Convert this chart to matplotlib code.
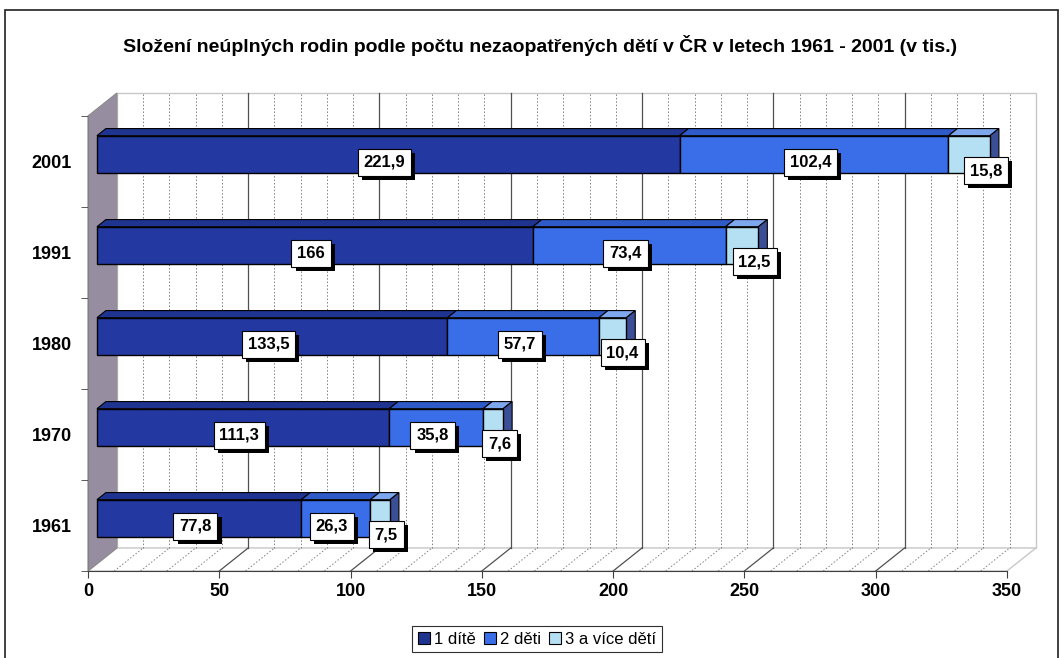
import matplotlib
matplotlib.use('Agg')
import matplotlib.pyplot as plt
from matplotlib.patches import Polygon, Rectangle
from matplotlib import font_manager
import matplotlib.patheffects as pe

years = ['1961', '1970', '1980', '1991', '2001']
one_child = [77.8, 111.3, 133.5, 166, 221.9]
two_children = [26.3, 35.8, 57.7, 73.4, 102.4]
three_plus = [7.5, 7.6, 10.4, 12.5, 15.8]
series_names = ['1 dítě', '2 děti', '3 a více dětí']
title = 'Složení neúplných rodin podle počtu nezaopatřených dětí v ČR v letech 1961 - 2001 (v tis.)'

installed = {f.name for f in font_manager.fontManager.ttflist}
narrow = 'Liberation Sans Narrow' if 'Liberation Sans Narrow' in installed else 'Liberation Sans'
regular = 'Liberation Sans' if 'Liberation Sans' in installed else 'DejaVu Sans'

front_cols = ['#2338a0', '#3a6ee8', '#b5dff2']
top_cols = ['#1f3490', '#2f5bc8', '#7ea8ee']
side_col = '#3b4f96'

XMAX = 350
NB = len(years)
DX, DY = 11.0, 0.253      # depth of the wall in data units
ZF, ZB = 0.31, 0.62       # bar depth range
HALF = 0.205              # half height of a bar


def P(x, y, z):
    return (x + z * DX, y + z * DY)


fig = plt.figure(figsize=(10.64, 6.58), dpi=100)
W, H = 1064, 658
ax = fig.add_axes([88 / W, (H - 571) / H, 919 / W, 455 / H])
ax.set_xlim(0, XMAX)
ax.set_ylim(0, NB)

# frame round the chart
fig.patches.append(Rectangle((5 / W, -0.01), 1053 / W, 1 - 10 / H + 0.01, transform=fig.transFigure,
                             fill=False, edgecolor='#202020', linewidth=1.2))

# walls and floor
back = Polygon([P(0, 0, 1), P(XMAX, 0, 1), P(XMAX, NB, 1), P(0, NB, 1)], closed=True,
               facecolor='white', edgecolor='#c8c8c8', linewidth=1, clip_on=False, zorder=0)
left = Polygon([P(0, 0, 0), P(0, 0, 1), P(0, NB, 1), P(0, NB, 0)], closed=True,
               facecolor='#978da0', edgecolor='#8a8a8a', linewidth=0.8, clip_on=False, zorder=0.5)
floor = Polygon([P(0, 0, 0), P(XMAX, 0, 0), P(XMAX, 0, 1), P(0, 0, 1)], closed=True,
                facecolor='white', edgecolor='#c8c8c8', linewidth=1, clip_on=False, zorder=0.4)
for p in (back, floor, left):
    ax.add_patch(p)

for v in range(10, XMAX, 10):
    major = v % 50 == 0
    ls = '-' if major else (0, (1.5, 2))
    col = '#505050' if major else '#808080'
    lw = 0.9 if major else 0.7
    x0, y0 = P(v, 0, 1)
    x1, y1 = P(v, NB, 1)
    ax.plot([x0, x1], [y0, y1], ls=ls, color=col, lw=lw, clip_on=False, zorder=1)
    x2, y2 = P(v, 0, 0)
    ax.plot([x2, x0], [y2, y0], ls=ls, color=col, lw=lw, clip_on=False, zorder=1)

# bars
ypos = [k + 0.5 for k in range(NB)]
series = [one_child, two_children, three_plus]
starts = [0.0] * NB
for s, vals in enumerate(series):
    lefts = [st + ZF * DX for st in starts]
    ycen = [y + ZF * DY for y in ypos]
    ax.barh(ycen, vals, left=lefts, height=2 * HALF, color=front_cols[s],
            edgecolor='black', linewidth=1, zorder=3)
    for k in range(NB):
        a, b = starts[k], starts[k] + vals[k]
        yt = ypos[k] + HALF
        ax.add_patch(Polygon([P(a, yt, ZF), P(b, yt, ZF), P(b, yt, ZB), P(a, yt, ZB)], closed=True,
                             facecolor=top_cols[s], edgecolor='black', linewidth=0.8, zorder=2.5))
        if s == len(series) - 1:
            yb = ypos[k] - HALF
            ax.add_patch(Polygon([P(b, yb, ZF), P(b, yt, ZF), P(b, yt, ZB), P(b, yb, ZB)], closed=True,
                                 facecolor=side_col, edgecolor='black', linewidth=0.8, zorder=2.5))
    starts = [st + v for st, v in zip(starts, vals)]


def label(x, y, txt):
    t = ax.text(x, y, txt, ha='center', va='center', fontsize=12, fontweight='bold',
                family=[narrow, 'DejaVu Sans'], color='black', zorder=6,
                bbox=dict(boxstyle='square,pad=0.35', facecolor='white', edgecolor='black', linewidth=0.8))
    t.get_bbox_patch().set_path_effects([
        pe.SimplePatchShadow(offset=(3, -3), shadow_rgbFace='black', alpha=1.0), pe.Normal()])


def fmt(v):
    return ('%g' % v).replace('.', ',')


for k in range(NB):
    a = one_child[k]
    b = a + two_children[k]
    c = b + three_plus[k]
    label(a / 2 + 2, ypos[k] - 0.01, fmt(one_child[k]))
    label((a + b) / 2 + 2, ypos[k] - 0.01, fmt(two_children[k]))
    label(c + 2, ypos[k] - 0.1, fmt(three_plus[k]))

# axes
for sp in ('top', 'right'):
    ax.spines[sp].set_visible(False)
ax.spines['bottom'].set_color('#404040')
ax.spines['left'].set_color('#808080')
ax.spines['bottom'].set_zorder(4)
ax.set_xticks(range(0, XMAX + 1, 50))
ax.set_xticklabels([str(v) for v in range(0, XMAX + 1, 50)], fontsize=13, fontweight='bold',
                   family=[narrow, 'DejaVu Sans'])
ax.tick_params(axis='x', length=5, color='#404040', pad=4)
ax.set_yticks(ypos)
ax.set_yticklabels(years, fontsize=13, fontweight='bold', family=[narrow, 'DejaVu Sans'])
ax.set_yticks(range(0, NB + 1), minor=True)
ax.tick_params(axis='y', which='major', length=0, pad=11.5)
ax.tick_params(axis='y', which='minor', length=5, color='#404040')
ax.patch.set_visible(False)

fig.text(540 / W, 1 - 45 / H, title, ha='center', va='center', fontsize=14, fontweight='bold',
         family=[narrow, 'DejaVu Sans'])

handles = [Rectangle((0, 0), 1, 1, facecolor=c, edgecolor='black', linewidth=0.8) for c in front_cols]
handles[0].set_facecolor('#1f3490')
leg = fig.legend(handles, series_names, loc='center', bbox_to_anchor=(537 / W, 1 - 639 / H), ncol=3,
                 frameon=True, fancybox=False, edgecolor='#303030', framealpha=1,
                 prop={'family': [regular, 'DejaVu Sans'], 'size': 12},
                 handlelength=0.7, handleheight=0.7, handletextpad=0.25, columnspacing=0.5,
                 borderpad=0.35)
leg.get_frame().set_linewidth(0.8)

fig.savefig('out.png', dpi=100)
